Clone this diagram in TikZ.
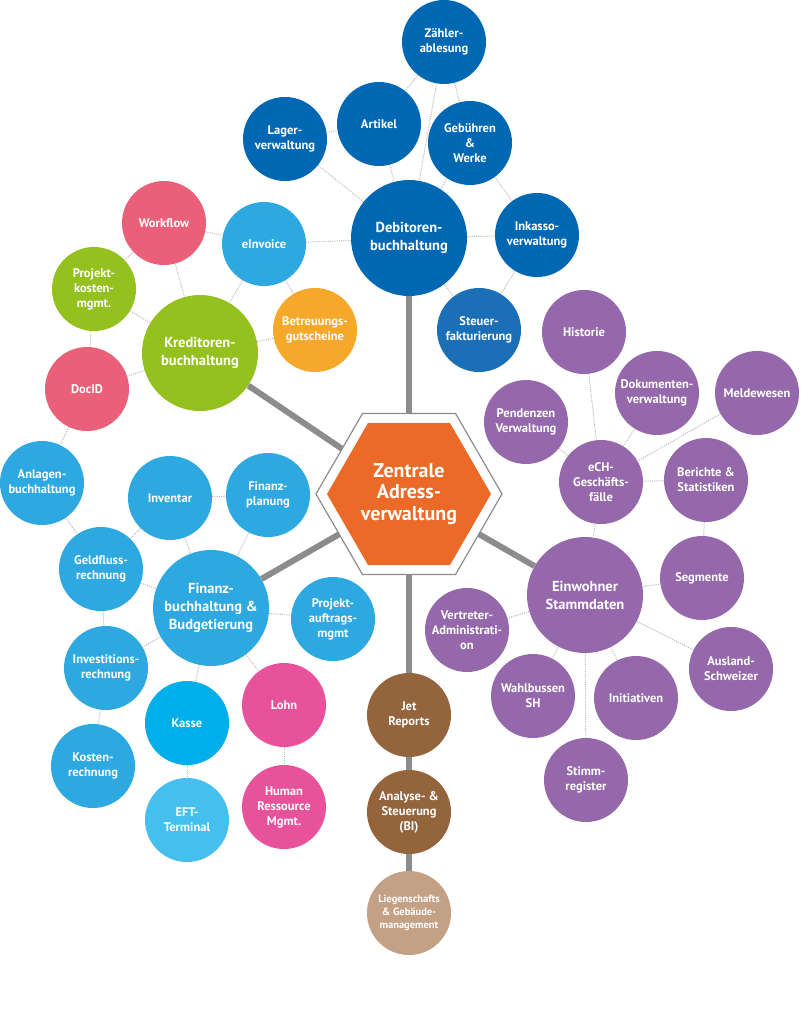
\documentclass[tikz,border=0pt]{standalone}
\usepackage{fontspec}
\setmainfont{PT Sans}
\usepackage{tikz}
\usepackage{xcolor}
\usetikzlibrary{positioning}
\definecolor{debblue}{HTML}{0068B3}
\definecolor{steuerblue}{HTML}{1B6FB6}
\definecolor{lightblue}{HTML}{2EA8E0}
\definecolor{kasseblue}{HTML}{00AEEA}
\definecolor{eftblue}{HTML}{45BFEE}
\definecolor{rose}{HTML}{EB6079}
\definecolor{magenta}{HTML}{E8529A}
\definecolor{lime}{HTML}{95C11F}
\definecolor{amber}{HTML}{F6A82A}
\definecolor{violet}{HTML}{9468AA}
\definecolor{hexorange}{HTML}{EB6A27}
\definecolor{brown}{HTML}{94643D}
\definecolor{sand}{HTML}{C4A084}
\definecolor{spinegray}{HTML}{8C8C8C}
\tikzset{%
	bubble/.style   = {circle, minimum size = 84pt, inner sep = 0pt, align = center, text = white, font = \bfseries\fontsize{12.5}{15}\selectfont}, % small circle
	hub/.style      = {bubble, minimum size = 116pt, font = \bfseries\fontsize{14.5}{18}\selectfont}, % big circle
	hexframe/.style = {draw = spinegray, line width = 1.2pt, fill = white}, % white frame
	hexcore/.style  = {fill = hexorange}, % orange centre
	hextext/.style  = {align = center, text = white, font = \bfseries\fontsize{20}{21.5}\selectfont}, % centre label
	link/.style     = {draw = gray!55, line width = 1pt, dash pattern = on 1pt off 1.2pt}, % dotted tie
	spine/.style    = {draw = spinegray, line width = 6pt}, % thick tie
}
\begin{document}
\begin{tikzpicture}[x = 1pt, y = -1pt]
	\fill[white] (0,0) rectangle (800,1024);
	\coordinate (hex) at (409,494);
	% debitoren
	\node[hub, fill = debblue] (debitoren) at (409,238) {Debitoren-\\buchhaltung};
	\node[bubble, fill = debblue] (zaehler) at (444,42) {Zähler-\\ablesung};
	\node[bubble, fill = debblue] (artikel) at (379,124) {Artikel};
	\node[bubble, fill = debblue] (lager) at (285,139) {Lager-\\verwaltung};
	\node[bubble, fill = debblue] (gebuehren) at (470,143) {Gebühren\\\&\\Werke};
	\node[bubble, fill = debblue] (inkasso) at (537,235) {Inkasso-\\verwaltung};
	\node[bubble, fill = steuerblue] (steuer) at (479,330) {Steuer-\\fakturierung};
	% kreditoren
	\node[hub, fill = lime] (kreditoren) at (200,353) {Kreditoren-\\buchhaltung};
	\node[bubble, fill = lightblue] (einvoice) at (264,244) {eInvoice};
	\node[bubble, fill = rose] (workflow) at (164,223) {Workflow};
	\node[bubble, fill = lime] (projkosten) at (94,289) {Projekt-\\kosten-\\mgmt.};
	\node[bubble, fill = amber] (betreuung) at (315,330) {Betreuungs-\\gutscheine};
	\node[bubble, fill = rose] (docid) at (87,389) {DocID};
	% finanzen
	\node[hub, fill = lightblue] (finanz) at (211,608) {Finanz-\\buchhaltung \&\\Budgetierung};
	\node[bubble, fill = lightblue] (anlagen) at (42,483) {Anlagen-\\buchhaltung};
	\node[bubble, fill = lightblue] (inventar) at (170,498) {Inventar};
	\node[bubble, fill = lightblue] (finplan) at (268,495) {Finanz-\\planung};
	\node[bubble, fill = lightblue] (geldfluss) at (101,569) {Geldfluss-\\rechnung};
	\node[bubble, fill = lightblue] (projauftrag) at (333,619) {Projekt-\\auftrags-\\mgmt};
	\node[bubble, fill = lightblue] (invest) at (106,668) {Investitions-\\rechnung};
	\node[bubble, fill = kasseblue] (kasse) at (187,723) {Kasse};
	\node[bubble, fill = magenta] (lohn) at (284,705) {Lohn};
	\node[bubble, fill = lightblue] (kosten) at (93,766) {Kosten-\\rechnung};
	\node[bubble, fill = eftblue, below of = kasse, node distance = 97pt] (eft) {EFT-\\Terminal};
	\node[bubble, fill = magenta, below of = lohn, node distance = 102pt] (hr) {Human\\Ressource\\Mgmt.};
	% einwohner
	\node[hub, fill = violet] (einwohner) at (585,595) {Einwohner\\Stammdaten};
	\node[bubble, fill = violet] (historie) at (584,332) {Historie};
	\node[bubble, fill = violet] (dokumente) at (657,393) {Dokumenten-\\verwaltung};
	\node[bubble, fill = violet] (melde) at (757,393) {Meldewesen};
	\node[bubble, fill = violet] (pendenzen) at (526,422) {Pendenzen\\Verwaltung};
	\node[bubble, fill = violet] (ech) at (601,482) {eCH-\\Geschäfts-\\fälle};
	\node[bubble, fill = violet] (berichte) at (706,480) {Berichte \&\\Statistiken};
	\node[bubble, fill = violet] (segmente) at (702,578) {Segmente};
	\node[bubble, fill = violet] (vertreter) at (467,630) {Vertreter-\\Administrati-\\on};
	\node[bubble, fill = violet] (ausland) at (731,669) {Ausland-\\Schweizer};
	\node[bubble, fill = violet] (wahl) at (533,696) {Wahlbussen\\SH};
	\node[bubble, fill = violet] (initiativen) at (636,698) {Initiativen};
	\node[bubble, fill = violet] (stimm) at (586,780) {Stimm-\\register};
	% reporting
	\node[bubble, fill = brown] (jet) at (409,715) {Jet\\Reports};
	\node[bubble, fill = brown, below of = jet, node distance = 97pt] (analyse) {Analyse- \&\\Steuerung\\(BI)};
	\node[bubble, fill = sand, below of = analyse, node distance = 101pt, font = \bfseries\fontsize{10.5}{13}\selectfont] (liegen) {Liegenschafts\\\& Gebäude-\\management};
	% thick ties
	\draw[spine] (hex) -- (debitoren);
	\draw[spine] (hex) -- (kreditoren);
	\draw[spine] (hex) -- (finanz);
	\draw[spine] (hex) -- (einwohner);
	\draw[spine] (hex) -- (jet);
	\draw[spine] (jet) -- (analyse);
	\draw[spine] (analyse) -- (liegen);
	% centre
	\draw[hexframe, shift = {(hex)}] (0:93) -- (60:93) -- (120:93) -- (180:93) -- (240:93) -- (300:93) -- cycle;
	\fill[hexcore, shift = {(hex)}] (0:82) -- (60:82) -- (120:82) -- (180:82) -- (240:82) -- (300:82) -- cycle;
	\node[hextext] (core) at (hex) {Zentrale\\Adress-\\verwaltung};
	% dotted ties
	\draw[link] (zaehler) -- (artikel);
	\draw[link] (zaehler) -- (debitoren);
	\draw[link] (zaehler) -- (gebuehren);
	\draw[link] (lager) -- (artikel);
	\draw[link] (lager) -- (debitoren);
	\draw[link] (artikel) -- (debitoren);
	\draw[link] (gebuehren) -- (debitoren);
	\draw[link] (gebuehren) -- (inkasso);
	\draw[link] (debitoren) -- (inkasso);
	\draw[link] (debitoren) -- (einvoice);
	\draw[link] (debitoren) -- (steuer);
	\draw[link] (inkasso) -- (steuer);
	\draw[link] (workflow) -- (einvoice);
	\draw[link] (workflow) -- (projkosten);
	\draw[link] (workflow) -- (kreditoren);
	\draw[link] (einvoice) -- (kreditoren);
	\draw[link] (einvoice) -- (betreuung);
	\draw[link] (projkosten) -- (kreditoren);
	\draw[link] (projkosten) -- (docid);
	\draw[link] (kreditoren) -- (betreuung);
	\draw[link] (kreditoren) -- (docid);
	\draw[link] (docid) -- (anlagen);
	\draw[link] (anlagen) -- (geldfluss);
	\draw[link] (inventar) -- (finplan);
	\draw[link] (inventar) -- (geldfluss);
	\draw[link] (inventar) -- (finanz);
	\draw[link] (finplan) -- (finanz);
	\draw[link] (geldfluss) -- (finanz);
	\draw[link] (geldfluss) -- (invest);
	\draw[link] (finanz) -- (invest);
	\draw[link] (finanz) -- (projauftrag);
	\draw[link] (finanz) -- (kasse);
	\draw[link] (finanz) -- (lohn);
	\draw[link] (invest) -- (kosten);
	\draw[link] (kasse) -- (eft);
	\draw[link] (lohn) -- (hr);
	\draw[link] (historie) -- (ech);
	\draw[link] (dokumente) -- (ech);
	\draw[link] (melde) -- (ech);
	\draw[link] (pendenzen) -- (ech);
	\draw[link] (ech) -- (berichte);
	\draw[link] (ech) -- (einwohner);
	\draw[link] (berichte) -- (segmente);
	\draw[link] (einwohner) -- (segmente);
	\draw[link] (einwohner) -- (vertreter);
	\draw[link] (einwohner) -- (ausland);
	\draw[link] (einwohner) -- (wahl);
	\draw[link] (einwohner) -- (initiativen);
	\draw[link] (einwohner) -- (stimm);
\end{tikzpicture}
\end{document}
